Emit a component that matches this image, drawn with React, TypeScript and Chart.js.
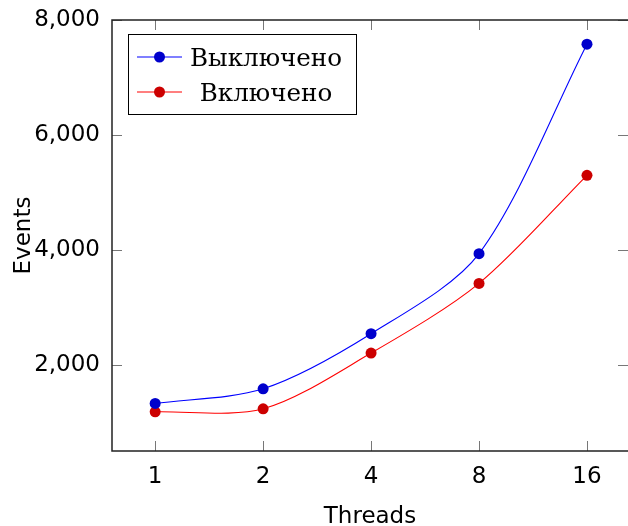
import { useEffect, useRef } from 'react';
import { Chart, registerables } from 'chart.js';

Chart.register(...registerables);

const threadLabels = ['1', '2', '4', '8', '16'];
const offValues = [1336, 1591, 2548, 3939, 7579];
const onValues = [1191, 1243, 2212, 3423, 5301];
const yTicks = [2000, 4000, 6000, 8000];
const seriesNames = ['Выключено', 'Включено'];
const lineColors = ['#0000ff', '#ff0000'];
const markColors = ['#0000cc', '#cc0000'];

const SANS = '"DejaVu Sans", sans-serif';
const SERIF = '"DejaVu Serif", serif';

const zeroPad = (s: any) => {
  s.paddingTop = 0;
  s.paddingBottom = 0;
  s.paddingLeft = 0;
  s.paddingRight = 0;
};

const frameAndLegend = {
  id: 'frameAndLegend',
  afterDraw(chart: any) {
    const { ctx, chartArea: a, scales } = chart;
    ctx.save();
    const tl = 10;
    ctx.strokeStyle = '#777777';
    ctx.lineWidth = 1;
    threadLabels.forEach((_, i) => {
      const x = Math.round(scales.x.getPixelForValue(i)) + 0.5;
      ctx.beginPath();
      ctx.moveTo(x, a.bottom);
      ctx.lineTo(x, a.bottom - tl);
      ctx.moveTo(x, a.top);
      ctx.lineTo(x, a.top + tl);
      ctx.stroke();
    });
    yTicks.forEach((v) => {
      const y = Math.round(scales.y.getPixelForValue(v)) + 0.5;
      ctx.beginPath();
      ctx.moveTo(a.left, y);
      ctx.lineTo(a.left + tl, y);
      ctx.moveTo(a.right, y);
      ctx.lineTo(a.right - tl, y);
      ctx.stroke();
    });
    ctx.strokeStyle = '#222';
    ctx.lineWidth = 1.5;
    ctx.beginPath();
    ctx.moveTo(a.right + 2, a.top);
    ctx.lineTo(a.left, a.top);
    ctx.lineTo(a.left, a.bottom);
    ctx.lineTo(a.right + 2, a.bottom);
    ctx.stroke();

    // legend
    ctx.font = '24.6px ' + SERIF;
    const widths = seriesNames.map((n) => ctx.measureText(n).width);
    const maxW = Math.max(...widths);
    const bl = a.left + 16;
    const bt = a.top + 14;
    const bw = 54 + 8 + maxW + 14;
    const bh = 80;
    ctx.fillStyle = '#fff';
    ctx.fillRect(bl, bt, bw, bh);
    ctx.strokeStyle = '#000';
    ctx.lineWidth = 1;
    ctx.strokeRect(Math.round(bl) + 0.5, Math.round(bt) + 0.5, Math.round(bw), bh);
    seriesNames.forEach((name, i) => {
      const ry = bt + 23 + i * 35;
      ctx.strokeStyle = lineColors[i];
      ctx.lineWidth = 1.1;
      ctx.beginPath();
      ctx.moveTo(bl + 9, ry);
      ctx.lineTo(bl + 54, ry);
      ctx.stroke();
      ctx.fillStyle = markColors[i];
      ctx.beginPath();
      ctx.arc(bl + 31.5, ry, 5.5, 0, Math.PI * 2);
      ctx.fill();
      ctx.fillStyle = '#000';
      ctx.textAlign = 'center';
      ctx.textBaseline = 'alphabetic';
      ctx.fillText(name, bl + 62 + maxW / 2, ry + 8.5);
    });
    ctx.restore();
  },
};

export default function App() {
  const ref = useRef<HTMLCanvasElement>(null);
  useEffect(() => {
    if (!ref.current) return;
    const mk = (vals: number[], i: number) => ({
      label: seriesNames[i],
      data: vals.map((y, k) => ({ x: k, y })),
      borderColor: lineColors[i],
      backgroundColor: markColors[i],
      pointBackgroundColor: markColors[i],
      pointBorderColor: markColors[i],
      pointBorderWidth: 0,
      pointRadius: 5.5,
      borderWidth: 1.1,
      tension: 0.3,
      fill: false,
    });
    const chart = new Chart(ref.current, {
      type: 'line',
      data: { datasets: [mk(offValues, 0), mk(onValues, 1)] },
      plugins: [frameAndLegend],
      options: {
        animation: false,
        responsive: false,
        devicePixelRatio: 1,
        layout: { autoPadding: false, padding: { top: 20, right: 0, left: 0, bottom: 0 } },
        plugins: { legend: { display: false }, tooltip: { enabled: false } },
        scales: {
          x: {
            type: 'linear',
            min: -0.4,
            max: 4.38,
            grid: { display: false, drawTicks: false },
            border: { display: false },
            afterBuildTicks: (s: any) => {
              s.ticks = threadLabels.map((_, i) => ({ value: i }));
            },
            afterFit: (s: any) => {
              s.height = 75;
              zeroPad(s);
            },
            ticks: {
              padding: 12,
              color: '#000',
              font: { family: SANS, size: 23 },
              maxRotation: 0,
              autoSkip: false,
              callback: (v: any) => threadLabels[v as number] ?? '',
            },
            title: {
              display: true,
              text: 'Threads',
              color: '#000',
              font: { family: SANS, size: 23 },
              padding: { top: 0, bottom: -5 },
            },
          },
          y: {
            type: 'linear',
            min: 510,
            max: 8000,
            grid: { display: false, drawTicks: false },
            border: { display: false },
            afterBuildTicks: (s: any) => {
              s.ticks = yTicks.map((v) => ({ value: v }));
            },
            afterFit: (s: any) => {
              s.width = 112;
              zeroPad(s);
            },
            ticks: {
              padding: 12,
              color: '#000',
              font: { family: SANS, size: 23 },
              callback: (v: any) => Number(v).toLocaleString('en-US'),
            },
            title: {
              display: true,
              text: 'Events',
              color: '#000',
              font: { family: SANS, size: 23 },
              padding: { top: 10, bottom: 0 },
            },
          },
        },
      },
    });
    return () => chart.destroy();
  }, []);
  return (
    <div style={{ position: 'absolute', left: 0, top: 0, width: 628, height: 526, overflow: 'hidden', background: '#fff' }}>
      <canvas ref={ref} width={628} height={526} style={{ display: 'block', width: 628, height: 526 }} />
    </div>
  );
}
